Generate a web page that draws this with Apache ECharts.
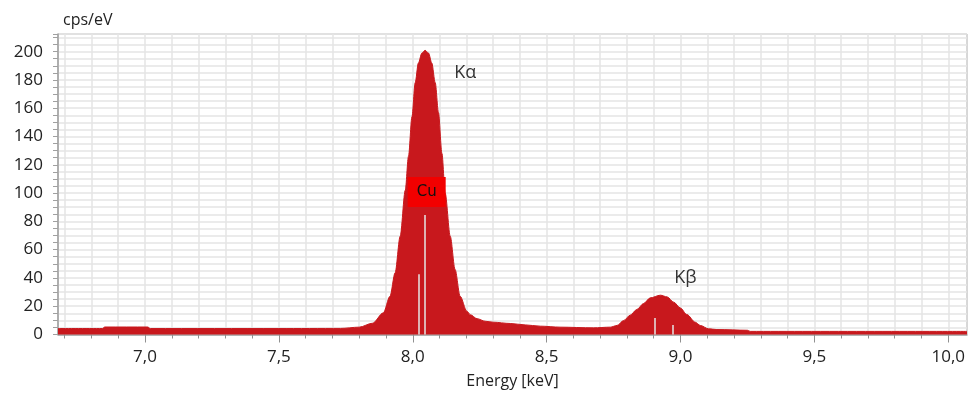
<!DOCTYPE html>
<html>
<head>
<meta charset="utf-8">
<script src="https://cdn.jsdelivr.net/npm/echarts@6/dist/echarts.min.js"></script>
<style>
  html, body { margin: 0; padding: 0; background: #fff; }
  #draw-main { width: 970px; height: 396px; }
</style>
</head>
<body>
<div id="draw-main"></div>
<script>
// spectrum (keV, cps/eV)
let energy = [6.675, 6.84, 6.85, 7.01, 7.02, 7.5, 7.73, 7.80, 7.85, 7.89, 7.915, 7.934, 7.953,
    7.972, 7.984, 7.997, 8.009, 8.021, 8.034, 8.046, 8.059, 8.071, 8.084, 8.096, 8.109, 8.121,
    8.140, 8.158, 8.177, 8.202, 8.215, 8.24, 8.27, 8.30, 8.364, 8.42, 8.476, 8.55, 8.675, 8.738,
    8.763, 8.788, 8.812, 8.837, 8.862, 8.887, 8.925, 8.950, 8.975, 8.999, 9.024, 9.055, 9.074,
    9.105, 9.136, 9.25, 9.26, 10.07];
let counts = [4.2, 4.2, 5.3, 5.3, 4.2, 4.2, 4.3, 5.2, 8.0, 15.3, 27, 43.6, 69.5,
    102, 126, 154, 178, 192, 199, 201, 199, 192, 178, 157, 128, 100,
    69.5, 46, 27, 16.5, 14, 11.2, 9.4, 8.7, 7.8, 6.8, 5.9, 5.2, 4.7, 5.2,
    6.4, 9.9, 13.7, 17.7, 21.9, 25.9, 27.8, 26.6, 22.8, 18.8, 14.1, 8.7, 6.4,
    4.0, 3.5, 3.0, 2.2, 2.2];

// element marker lines (Cu)
let lineEnergy = [8.023, 8.043, 8.903, 8.970];
let lineHeight = [42.6, 84.5, 11.7, 6.7];

// ticks
let majorTicks = [7.0, 7.5, 8.0, 8.5, 9.0, 9.5, 10.0];
let minorTicks = [6.7, 6.8, 6.9, 7.0, 7.1, 7.2, 7.3, 7.4, 7.5, 7.6, 7.7, 7.8, 7.9, 8.0, 8.1, 8.2,
    8.3, 8.4, 8.5, 8.6, 8.7, 8.8, 8.9, 9.0, 9.1, 9.2, 9.3, 9.4, 9.5, 9.6, 9.7, 9.8, 9.9, 10.0];

let font = '"Open Sans", "Noto Sans", sans-serif';
let xMin = 6.675, xMax = 10.07, yMax = 212.5;

let myChart = echarts.init(document.getElementById('draw-main'));

let option = {
    animation: false,
    grid: {
        left: 58, right: 3, top: 34, bottom: 61.5,
        show: true, borderColor: '#b0b0b0', borderWidth: 1
    },
    graphic: [{
        type: 'text', left: 63, top: 12,
        style: { text: 'cps/eV', fill: '#222', font: '16px ' + font }
    }],
    xAxis: [{
        // grid lines + short ticks
        type: 'value', min: xMin, max: xMax, splitNumber: 34,
        axisLine: { show: true, lineStyle: { color: '#a0a0a0', width: 1.5 } },
        axisTick: { show: true, length: 4, customValues: minorTicks, lineStyle: { color: '#909090' } },
        axisLabel: { show: false },
        splitLine: { show: true, lineStyle: { color: '#e4e4e4', width: 1.5 } },
        name: 'Energy [keV]', nameLocation: 'middle', nameGap: 39,
        nameTextStyle: { fontFamily: font, fontSize: 16, color: '#222' }
    }, {
        // long ticks + labels
        type: 'value', min: xMin, max: xMax, splitNumber: 7, position: 'bottom',
        axisLine: { show: false },
        axisTick: { show: true, length: 8, customValues: majorTicks, lineStyle: { color: '#909090' } },
        axisLabel: {
            show: true, margin: 14, customValues: majorTicks,
            fontFamily: font, fontSize: 17, color: '#222',
            formatter: v => v.toFixed(1).replace('.', ',')
        },
        splitLine: { show: false }
    }],
    yAxis: [{
        type: 'value', min: 0, max: yMax, interval: 20,
        axisLine: { show: false },
        axisTick: { show: false },
        axisLabel: { margin: 15, showMaxLabel: false, fontFamily: font, fontSize: 17, color: '#222' },
        splitLine: { show: false }
    }, {
        type: 'value', min: 0, max: yMax, interval: 5, position: 'left',
        axisLine: { show: true, lineStyle: { color: '#a0a0a0', width: 1.5 } },
        axisTick: { show: true, length: 5, lineStyle: { color: '#a0a0a0' } },
        axisLabel: { show: false },
        splitLine: { show: true, lineStyle: { color: '#e4e4e4', width: 1.5 } }
    }],
    series: [{
        type: 'line',
        xAxisIndex: 0, yAxisIndex: 0,
        data: energy.map((e, i) => [e, counts[i]]),
        showSymbol: false,
        smooth: 0.3, smoothMonotone: 'x',
        lineStyle: { color: '#c8181d', width: 1 },
        areaStyle: { color: '#c8181d', opacity: 1 },
        z: 3,
        markLine: {
            silent: true, symbol: ['none', 'none'],
            label: { show: false },
            lineStyle: { color: '#e6e6e6', width: 1.5, type: 'solid' },
            data: lineEnergy.map((e, i) => [{ coord: [e, 0] }, { coord: [e, lineHeight[i]] }])
        },
        markPoint: {
            silent: true,
            data: [{
                coord: [8.052, 100.7], symbol: 'rect', symbolSize: [38, 30],
                itemStyle: { color: '#f20000' },
                label: { show: true, position: 'inside', formatter: 'Cu', color: '#111',
                    fontFamily: '"DejaVu Sans", sans-serif', fontSize: 15 }
            }, {
                coord: [8.196, 184.8], symbol: 'rect', symbolSize: 0,
                label: { show: true, position: 'inside', formatter: 'Kα', color: '#333',
                    fontFamily: font, fontSize: 18 }
            }, {
                coord: [9.018, 39.7], symbol: 'rect', symbolSize: 0,
                label: { show: true, position: 'inside', formatter: 'Kβ', color: '#333',
                    fontFamily: font, fontSize: 18 }
            }]
        }
    }]
};

myChart.setOption(option, true);
</script>
</body>
</html>
